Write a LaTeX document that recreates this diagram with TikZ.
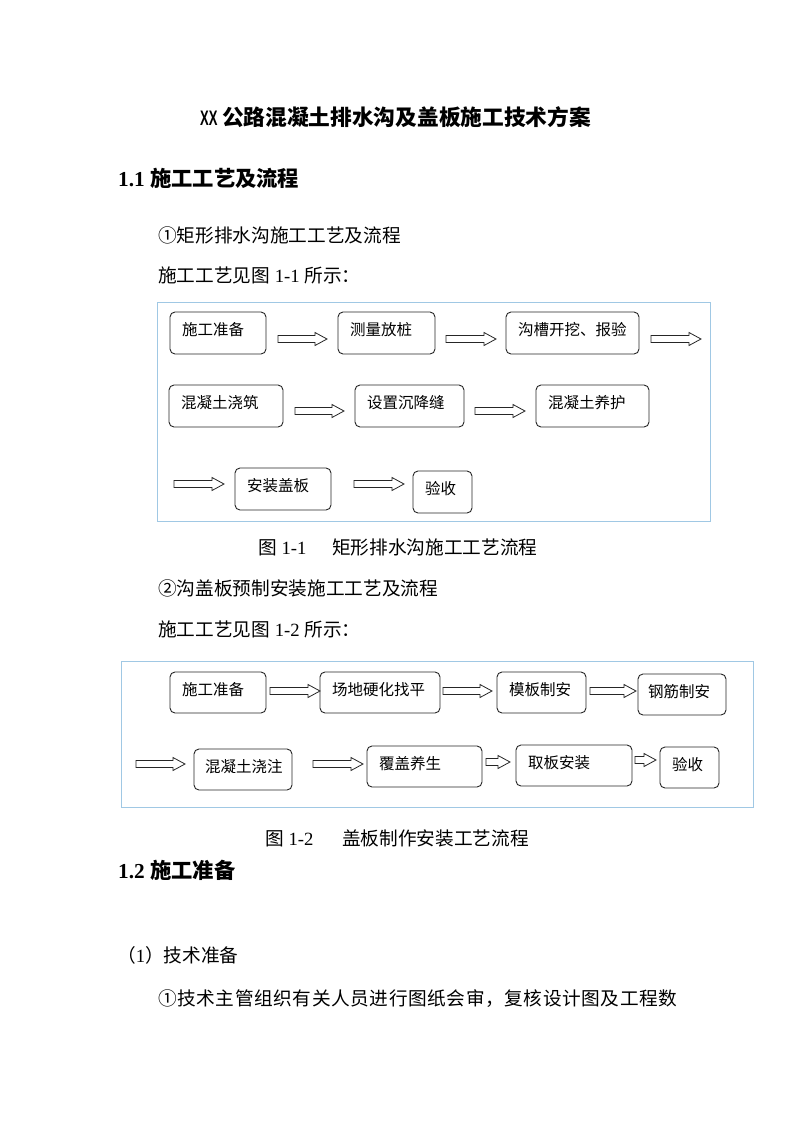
\documentclass[tikz,border=0pt]{standalone}
\usepackage{graphicx}
\usepackage{fontspec}
\setmainfont{Liberation Serif}
\newfontfamily\cjk{Noto Sans CJK SC}
\newfontfamily\lsans{Liberation Sans}
\usetikzlibrary{calc}
\definecolor{framebl}{RGB}{160,200,228}
\newcommand{\blockarr}[2]{\draw[blk] ($(#1)+(0,-3.5)$) -- ($(#2)+(-12,-3.5)$) -- ($(#2)+(-12,-6.5)$) -- (#2) -- ($(#2)+(-12,6.5)$) -- ($(#2)+(-12,3.5)$) -- ($(#1)+(0,3.5)$) -- cycle;}
\begin{document}
\begin{tikzpicture}[x=1pt,y=-1pt,
  box/.style={draw=black!85, line width=0.9pt, rounded corners=5pt, inner xsep=12pt, inner ysep=0pt,
    align=left, font=\cjk\fontsize{15.5}{18}\selectfont, text height=11.5pt, text depth=6.5pt},
  blk/.style={draw=black!85, line width=0.8pt, fill=white},
  frame/.style={draw=framebl, line width=1pt},
  body/.style={anchor=base west, inner sep=0pt, font=\fontsize{18.67}{22}\selectfont},
  head/.style={anchor=base west, inner sep=0pt, font=\fontsize{21.3}{24}\selectfont\bfseries},
]
\useasboundingbox (0,0) rectangle (793,1122);
\fill[white] (0,0) rectangle (793,1122);

% title and headings
\node[anchor=base west, inner sep=0pt] (title) at (200,125.2)
  {\scalebox{0.62}[1]{\lsans\bfseries\fontsize{21}{24}\selectfont XX}\hspace{4.5pt}{\cjk\bfseries\fontsize{21.7}{24}\selectfont 公路混凝土排水沟及盖板施工技术方案}};
\node[head] (h11) at (118,186) {1.1 {\cjk\bfseries 施工工艺及流程}};
\node[body] (t1) at (158,242) {\cjk ①矩形排水沟施工工艺及流程};
\node[body] (t2) at (158,282) {{\cjk 施工工艺见图} 1-1 {\cjk 所示：}};

% figure 1-1
\draw[frame] (157,302) rectangle (710,521);
\node[box, text width=72pt, minimum height=42pt] (a1) at (218,333) {施工准备};
\node[box, text width=73pt, minimum height=42pt] (a2) at (386.5,333) {测量放桩};
\node[box, text width=109pt, minimum height=42pt] (a3) at (572.5,333) {沟槽开挖、报验};
\node[box, text width=90pt, minimum height=42pt] (b1) at (226,406) {混凝土浇筑};
\node[box, text width=85pt, minimum height=42pt] (b2) at (409.5,406) {设置沉降缝};
\node[box, text width=89pt, minimum height=42pt] (b3) at (592.5,406) {混凝土养护};
\node[box, text width=72pt, minimum height=42pt] (c1) at (283,489) {安装盖板};
\node[box, text width=35pt, minimum height=42pt] (c2) at (442.5,492) {验收};

\coordinate (r1s) at (278,339); \coordinate (r1e) at (327,339);
\coordinate (r2s) at (446,339); \coordinate (r2e) at (496,339);
\coordinate (r3s) at (651,339); \coordinate (r3e) at (701,339);
\coordinate (r4s) at (295,411); \coordinate (r4e) at (344,411);
\coordinate (r5s) at (475,411); \coordinate (r5e) at (525,411);
\coordinate (r6s) at (174,484); \coordinate (r6e) at (224,484);
\coordinate (r7s) at (354,484); \coordinate (r7e) at (404,484);
\blockarr{r1s}{r1e}
\blockarr{r2s}{r2e}
\blockarr{r3s}{r3e}
\blockarr{r4s}{r4e}
\blockarr{r5s}{r5e}
\blockarr{r6s}{r6e}
\blockarr{r7s}{r7e}

\node[body] (cap1) at (258,554) {{\cjk 图} 1-1\hspace{25.8pt}{\cjk 矩形排水沟施工工艺流程}};
\node[body] (t3) at (158,595) {\cjk ②沟盖板预制安装施工工艺及流程};
\node[body] (t4) at (158,636) {{\cjk 施工工艺见图} 1-2 {\cjk 所示：}};

% figure 1-2
\draw[frame] (121,661) rectangle (753,807);
\node[box, text width=72pt, minimum height=41pt] (d1) at (218,692.5) {施工准备};
\node[box, text width=96pt, minimum height=41pt] (d2) at (380,692.5) {场地硬化找平};
\node[box, text width=65pt, minimum height=41pt] (d3) at (541.5,692.5) {模板制安};
\node[box, minimum height=41pt, inner xsep=10pt, text width=68pt] (d4) at (682,694.5) {钢筋制安};
\node[box, text width=76pt, minimum height=41pt, inner xsep=11pt] (e1) at (243,769.5) {混凝土浇注};
\node[box, text width=91pt, minimum height=41pt] (e2) at (424.5,766.5) {覆盖养生};
\node[box, text width=92pt, minimum height=41pt] (e3) at (574,765.5) {取板安装};
\node[box, text width=35pt, minimum height=41pt] (e4) at (689.5,767.5) {验收};

\coordinate (s1s) at (270,691); \coordinate (s1e) at (320,691);
\coordinate (s2s) at (443,691); \coordinate (s2e) at (492,691);
\coordinate (s3s) at (590,691); \coordinate (s3e) at (636,691);
\coordinate (s4s) at (136,764); \coordinate (s4e) at (185,764);
\coordinate (s5s) at (313,764); \coordinate (s5e) at (363,764);
\coordinate (s6s) at (486,762); \coordinate (s6e) at (510,762);
\coordinate (s7s) at (635,760); \coordinate (s7e) at (656,760);
\blockarr{s1s}{s1e}
\blockarr{s2s}{s2e}
\blockarr{s3s}{s3e}
\blockarr{s4s}{s4e}
\blockarr{s5s}{s5e}
\blockarr{s6s}{s6e}
\blockarr{s7s}{s7e}

\node[body] (cap2) at (265,845) {{\cjk 图} 1-2\hspace{28.7pt}{\cjk 盖板制作安装工艺流程}};
\node[head] (h12) at (118,878) {1.2 {\cjk\bfseries 施工准备}};
\node[body] (t5) at (117,962) {{\cjk （}1{\cjk ）技术准备}};
\node[body] (t6) at (158,1005) {\hbox to 519pt{\cjk ①\hfil 技\hfil 术\hfil 主\hfil 管\hfil 组\hfil 织\hfil 有\hfil 关\hfil 人\hfil 员\hfil 进\hfil 行\hfil 图\hfil 纸\hfil 会\hfil 审\hfil ，\hfil 复\hfil 核\hfil 设\hfil 计\hfil 图\hfil 及\hfil 工\hfil 程\hfil 数}};
\end{tikzpicture}
\end{document}
